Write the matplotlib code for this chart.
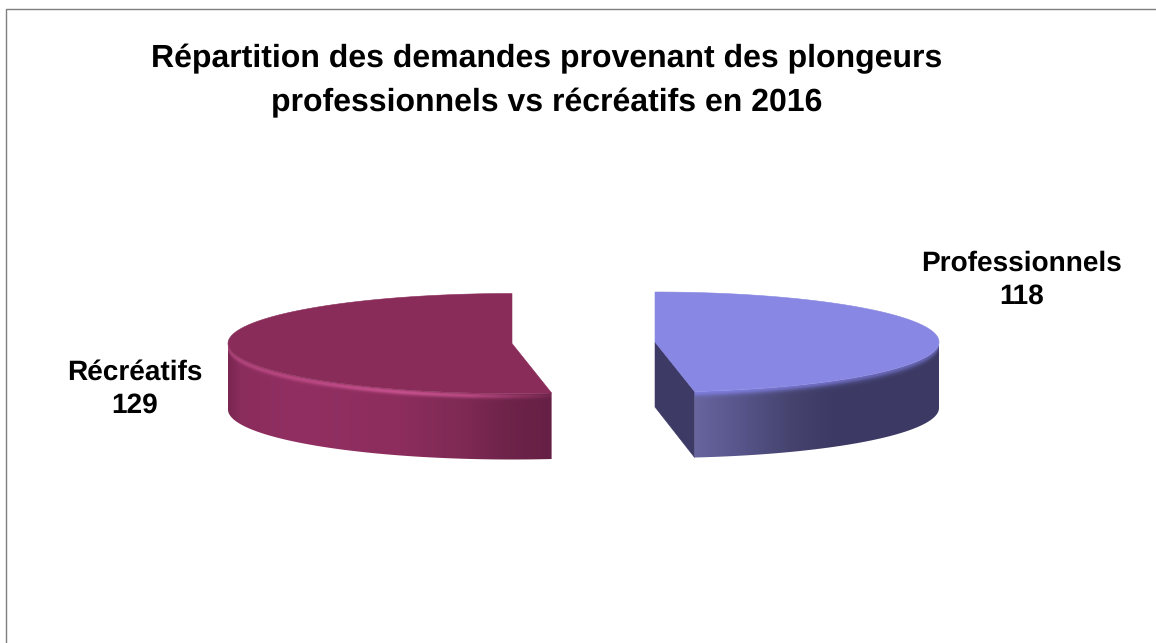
import numpy as np
import matplotlib
matplotlib.use("Agg")
import matplotlib.pyplot as plt
from matplotlib.colors import to_rgb
from matplotlib.patches import Polygon

plt.rcParams['font.family'] = ['Liberation Sans', 'DejaVu Sans']
plt.rcParams['text.hinting'] = 'no_hinting'
plt.rcParams['text.hinting_factor'] = 1

title = "Répartition des demandes provenant des plongeurs\nprofessionnels vs récréatifs en 2016"
labels = ["Professionnels", "Récréatifs"]
values = [118, 129]

RX, RY, DEPTH = 284, 50, 66


def rim(cx, cy, angles):
    a = np.radians(angles)
    return cx + RX * np.sin(a), cy - RY * np.cos(a)


def side_image(ax, cx, cy, a0, a1, stops, glow, glow_color, glow_pos=2.5, glow_w=1.8):
    # wall under the arc a0..a1, coloured by x, with a soft bevel along the rim
    ang = np.linspace(a0, a1, 200)
    x, y = rim(cx, cy, ang)
    path = np.r_[np.c_[x, y], np.c_[x[::-1], y[::-1] + DEPTH]]
    x0, x1 = int(x.min()) - 1, int(x.max()) + 2
    y0, y1 = int(y.min()) - 1, int(y.max() + DEPTH) + 2
    xx, yy = np.meshgrid(np.arange(x0, x1) + .5, np.arange(y0, y1) + .5)
    rim_y = cy + RY * np.sqrt(np.clip(1 - ((xx - cx) / RX) ** 2, 0, 1))
    rgb = np.array([to_rgb(c) for c in stops[1]])
    img = np.dstack([np.interp(xx, stops[0], rgb[:, i]) for i in range(3)])
    k = np.interp(xx, glow[0], glow[1]) * np.exp(-((yy - rim_y - glow_pos) / glow_w) ** 2)
    img = img * (1 - k[..., None]) + np.array(to_rgb(glow_color)) * k[..., None]
    im = ax.imshow(img, extent=(x0, x1, y1, y0), zorder=2, interpolation='bilinear', aspect='auto')
    im.set_clip_path(Polygon(path, closed=True, transform=ax.transData))


def top_face(ax, cx, cy, a0, a1, color):
    x, y = rim(cx, cy, np.linspace(a0, a1, 300))
    pts = np.r_[[[cx, cy]], np.c_[x, y]]
    ax.add_patch(Polygon(pts, closed=True, fc=color, ec=color, lw=0.4, zorder=3))


fig = plt.figure(figsize=(11.56, 6.43), dpi=100)
ax = fig.add_axes([0, 0, 1, 1])
ax.set_xlim(0, 1156)
ax.set_ylim(643, 0)
ax.axis('off')

ax.plot([6, 6, 1156], [643, 9, 9], color='#7f7f7f', lw=1, zorder=1)

sweep = 360 * values[0] / sum(values)

# right slice
cx, cy = 655, 342
tx, ty = rim(cx, cy, sweep)
ax.add_patch(Polygon([[cx, cy], [tx, ty], [tx, ty + DEPTH], [cx, cy + DEPTH - 1]],
                     closed=True, fc='#3d3b66', ec='#3d3b66', lw=0.4, zorder=2))
side_image(ax, cx, cy, 90, sweep,
           ([694, 740, 790, 830, 939], ['#68659f', '#57558a', '#46446f', '#3d3b66', '#3c3a64']),
           ([694, 780, 939], [.95, .8, .6]), '#7f7ee0', glow_pos=0.5, glow_w=4)
top_face(ax, cx, cy, 0, sweep, '#8887e3')

# left slice
cx, cy = 512, 343.5
side_image(ax, cx, cy, sweep, 270,
           ([228, 240, 300, 400, 460, 510, 552],
            ['#78264f', '#8a2c5c', '#922f62', '#8c2d5d', '#7f2a55', '#6e2349', '#662045']),
           ([228, 300, 400, 470, 552], [.6, .7, .95, .75, .1]), '#c8528e', glow_pos=2.5, glow_w=2.6)
top_face(ax, cx, cy, sweep, 360, '#8a2c5a')

ax.text(547, 81, title, ha='center', va='center', fontsize=23, fontweight='bold',
        color='black', linespacing=1.58)
ax.text(1022, 280, f"{labels[0]}\n{values[0]}", ha='center', va='center', fontsize=20.3,
        fontweight='bold', color='black', linespacing=1.36)
ax.text(135, 389, f"{labels[1]}\n{values[1]}", ha='center', va='center', fontsize=20.3,
        fontweight='bold', color='black', linespacing=1.36)

fig.savefig('out.png', dpi=100)
